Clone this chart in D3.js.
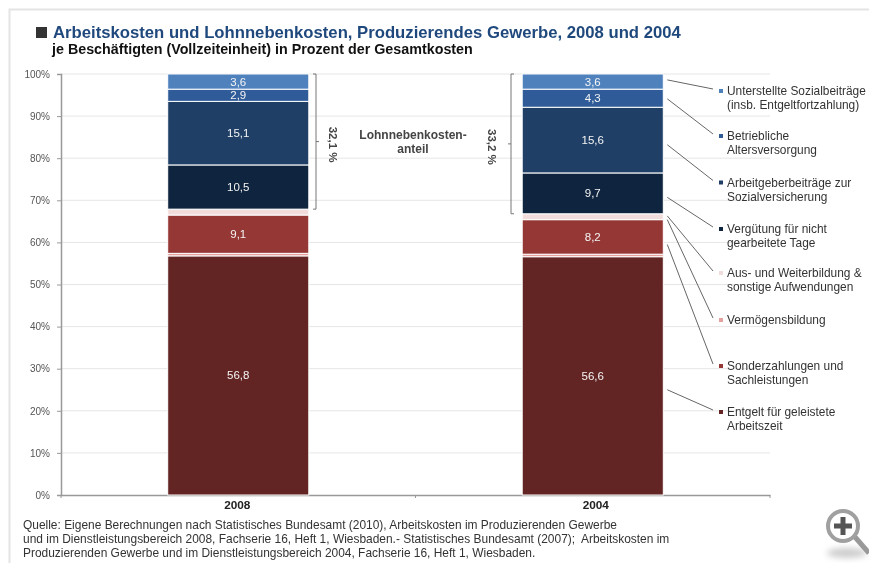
<!DOCTYPE html>
<html>
<head>
<meta charset="utf-8">
<script src="https://cdn.jsdelivr.net/npm/d3@7"></script>
<style>
  html, body { margin: 0; padding: 0; background: #fff; overflow: hidden; }
  svg { display: block; filter: blur(0.7px); font-family: "Liberation Sans", Arial, sans-serif; }
  text { white-space: pre; }
</style>
</head>
<body>
<div id="chart"></div>
<script>
// Chart data, stacked from the bottom up
const years = ["2008", "2004"];
const seriesNames = [
    "Entgelt für geleistete Arbeitszeit",
    "Vermögensbildung",
    "Sonderzahlungen und Sachleistungen",
    "Aus- und Weiterbildung & sonstige Aufwendungen",
    "Vergütung für nicht gearbeitete Tage",
    "Arbeitgeberbeiträge zur Sozialversicherung",
    "Betriebliche Altersversorgung",
    "Unterstellte Sozialbeiträge (insb. Entgeltfortzahlung)"
];
const seriesColors = ["#632523", "#e6a0a0", "#953735", "#f2dcdb", "#0f243e", "#1f3f66", "#2f5c98", "#4f81bd"];
const values2008 = [56.8, 0.6, 9.1, 1.4, 10.5, 15.1, 2.9, 3.6];
const values2004 = [56.6, 0.6, 8.2, 1.4, 9.7, 15.6, 4.3, 3.6];
const unlabelled = ["Vermögensbildung", "Aus- und Weiterbildung & sonstige Aufwendungen"];
const yTicks = [0, 10, 20, 30, 40, 50, 60, 70, 80, 90, 100];

// Legend rows, top to bottom, with the height on the 2004 bar each leader starts at
const legendSeries = [7, 6, 5, 4, 3, 1, 2, 0];
const legendLines = [
    ["Unterstellte Sozialbeiträge", "(insb. Entgeltfortzahlung)"],
    ["Betriebliche", "Altersversorgung"],
    ["Arbeitgeberbeiträge zur", "Sozialversicherung"],
    ["Vergütung für nicht", "gearbeitete Tage"],
    ["Aus- und Weiterbildung &", "sonstige Aufwendungen"],
    ["Vermögensbildung"],
    ["Sonderzahlungen und", "Sachleistungen"],
    ["Entgelt für geleistete", "Arbeitszeit"]
];
const legendRowY = [91, 136, 182.5, 229, 273, 320, 366, 412];
const leaderFrom = [98.6, 94.1, 83.2, 70.7, 66.3, 65.4, 59.5, 25];
const sourceLines = [
    "Quelle: Eigene Berechnungen nach Statistisches Bundesamt (2010), Arbeitskosten im Produzierenden Gewerbe",
    "und im Dienstleistungsbereich 2008, Fachserie 16, Heft 1, Wiesbaden.- Statistisches Bundesamt (2007);  Arbeitskosten im",
    "Produzierenden Gewerbe und im Dienstleistungsbereich 2004, Fachserie 16, Heft 1, Wiesbaden."
];

const width = 869, height = 563;
const margin = { top: 74, bottom: 68, left: 61, right: 99 };

const svg = d3.select("#chart").append("svg")
    .attr("width", width)
    .attr("height", height);

// Frame of the screenshot
svg.append("path")
    .attr("d", `M9.5,${height}V9.5H${width}`)
    .attr("fill", "none")
    .attr("stroke", "#e4e4e4")
    .attr("stroke-width", 2);

// Title block
svg.append("rect").attr("x", 36).attr("y", 27).attr("width", 11).attr("height", 11).attr("fill", "#333");
svg.append("text")
    .attr("x", 53).attr("y", 37.5)
    .attr("font-size", 16.7).attr("font-weight", "bold").attr("fill", "#1f497d")
    .text("Arbeitskosten und Lohnnebenkosten, Produzierendes Gewerbe, 2008 und 2004");
svg.append("text")
    .attr("x", 52).attr("y", 54)
    .attr("font-size", 14.3).attr("font-weight", "bold").attr("fill", "#111")
    .text("je Beschäftigten (Vollzeiteinheit) in Prozent der Gesamtkosten");

// Scales
const x = d3.scaleBand()
    .domain(years)
    .range([margin.left, width - margin.right])
    .paddingInner(0.602)
    .paddingOuter(0.301);

const y = d3.scaleLinear()
    .domain([0, 100])
    .range([height - margin.bottom, margin.top]);

// Gridlines
svg.append("g")
    .selectAll("line")
    .data(yTicks.slice(1))
    .enter()
    .append("line")
    .attr("x1", margin.left)
    .attr("x2", width - margin.right)
    .attr("y1", d => y(d))
    .attr("y2", d => y(d))
    .attr("stroke", "#e6e6e6");

// Axes
const yAxis = svg.append("g")
    .attr("transform", `translate(${margin.left},0)`)
    .call(d3.axisLeft(y).tickValues(yTicks).tickFormat(d => d + "%").tickSize(4).tickPadding(7));
yAxis.selectAll("text").attr("font-size", 10).attr("fill", "#555");
yAxis.selectAll("line, path").attr("stroke", "#999");
yAxis.select("path").attr("stroke-width", 1.5);

const xAxis = svg.append("g")
    .attr("transform", `translate(0,${height - margin.bottom})`)
    .call(d3.axisBottom(x).tickSize(0).tickPadding(6));
xAxis.select("path").attr("stroke", "#999").attr("stroke-width", 1.5);
xAxis.selectAll("text")
    .attr("font-size", 11.8)
    .attr("font-weight", "bold")
    .attr("fill", "#222")
    .attr("dx", d => d === "2004" ? 3 : -1);

// Tick marks sit between the categories on this axis
svg.append("g")
    .selectAll("line")
    .data([margin.left, (margin.left + width - margin.right) / 2, width - margin.right])
    .enter()
    .append("line")
    .attr("x1", d => d)
    .attr("x2", d => d)
    .attr("y1", y(0))
    .attr("y2", y(0) + 3)
    .attr("stroke", "#999");

// Stacked bars
const rows = [values2008, values2004];
years.forEach((year, i) => {
    let base = 0;
    rows[i].forEach((value, j) => {
        const top = base + value;
        svg.append("rect")
            .attr("x", x(year))
            .attr("y", y(top))
            .attr("width", x.bandwidth())
            .attr("height", y(base) - y(top))
            .attr("fill", seriesColors[j])
            .attr("stroke", "#fff")
            .attr("stroke-width", 1);
        if (!unlabelled.includes(seriesNames[j])) {
            svg.append("text")
                .attr("x", x(year) + x.bandwidth() / 2)
                .attr("y", y(base + value / 2) + 4)
                .attr("text-anchor", "middle")
                .attr("font-size", 11.5)
                .attr("fill", "#f4f4f4")
                .text(String(value).replace(".", ","));
        }
        base = top;
    });
});

// Brackets around the Lohnnebenkosten share
const lohnShare = years.map((year, i) => d3.sum(rows[i].slice(4)));
const bracketX = [316, 511];
const bracketDir = [-1, 1];
const shareLabelX = [333, 492];
lohnShare.forEach((share, i) => {
    const bx = bracketX[i], dir = bracketDir[i];
    const yTop = y(100), yBottom = y(100 - share), yMid = (yTop + yBottom) / 2;
    svg.append("path")
        .attr("d", `M${bx + dir * 3},${yTop}H${bx}V${yBottom}H${bx + dir * 3}M${bx},${yMid}H${bx - dir * 3}`)
        .attr("fill", "none")
        .attr("stroke", "#777")
        .attr("stroke-width", 1);
    svg.append("text")
        .attr("transform", `translate(${shareLabelX[i]},${yMid + 3}) rotate(90)`)
        .attr("text-anchor", "middle")
        .attr("dy", "0.35em")
        .attr("font-size", 11.5)
        .attr("font-weight", "bold")
        .attr("fill", "#444")
        .text(share.toFixed(1).replace(".", ",") + " %");
});

["Lohnnebenkosten-", "anteil"].forEach((line, i) => {
    svg.append("text")
        .attr("x", 413)
        .attr("y", 139 + i * 14)
        .attr("text-anchor", "middle")
        .attr("font-size", 12)
        .attr("font-weight", "bold")
        .attr("fill", "#444")
        .text(line);
});

// Legend with leader lines to the 2004 bar
legendLines.forEach((lines, i) => {
    const rowY = legendRowY[i];
    svg.append("line")
        .attr("x1", x("2004") + x.bandwidth() + 4)
        .attr("x2", 713)
        .attr("y1", y(leaderFrom[i]))
        .attr("y2", rowY - 2)
        .attr("stroke", "#666")
        .attr("stroke-width", 1);
    svg.append("rect")
        .attr("x", 719).attr("y", rowY - 2)
        .attr("width", 4).attr("height", 4)
        .attr("fill", seriesColors[legendSeries[i]]);
    lines.forEach((line, k) => {
        svg.append("text")
            .attr("x", 727)
            .attr("y", rowY + 4 + k * 14)
            .attr("font-size", 11.9)
            .attr("fill", "#333")
            .text(line);
    });
});

// Source note
sourceLines.forEach((line, i) => {
    svg.append("text")
        .attr("x", 23)
        .attr("y", 529 + i * 14)
        .attr("font-size", 11.95)
        .attr("fill", "#333")
        .text(line);
});

// Magnifier icon of the web page the picture was taken from
const icon = svg.append("g");
icon.append("ellipse").attr("cx", 847).attr("cy", 553).attr("rx", 20).attr("ry", 5)
    .attr("fill", "#ccc").style("filter", "blur(3px)");
icon.append("line").attr("x1", 855).attr("y1", 537).attr("x2", 869).attr("y2", 553)
    .attr("stroke", "#999").attr("stroke-width", 5);
icon.append("circle").attr("cx", 843).attr("cy", 526).attr("r", 15)
    .attr("fill", "#fff").attr("stroke", "#a0a0a0").attr("stroke-width", 4);
icon.append("path").attr("d", "M834,526H852M843,517V535")
    .attr("stroke", "#555").attr("stroke-width", 5);
</script>
</body>
</html>
